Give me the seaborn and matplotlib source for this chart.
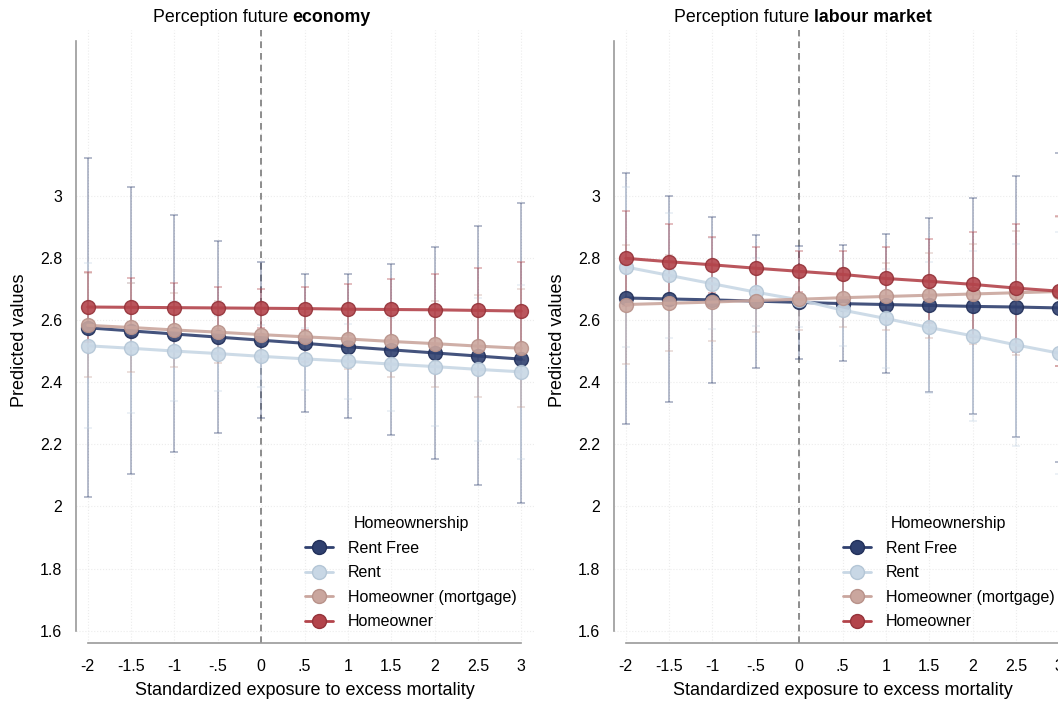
import pandas as pd
import matplotlib
matplotlib.use("Agg")
import matplotlib.pyplot as plt
import seaborn as sns
from matplotlib.lines import Line2D
from matplotlib.offsetbox import TextArea, HPacker, AnnotationBbox


# x values and tick labels
exposure = [-2, -1.5, -1, -0.5, 0, 0.5, 1, 1.5, 2, 2.5, 3]
xtick_labels = ["-2", "-1.5", "-1", "-.5", "0", ".5", "1", "1.5", "2", "2.5", "3"]
yticks = [1.6, 1.8, 2, 2.2, 2.4, 2.6, 2.8, 3]
ytick_labels = ["1.6", "1.8", "2", "2.2", "2.4", "2.6", "2.8", "3"]
groups = ["Rent Free", "Rent", "Homeowner (mortgage)", "Homeowner"]

# Perception future economy
eco_rentfree = [2.576, 2.566, 2.556, 2.546, 2.536, 2.526, 2.515, 2.505, 2.495, 2.485, 2.475]
eco_rentfree_lo = [2.030, 2.105, 2.175, 2.237, 2.286, 2.304, 2.284, 2.231, 2.153, 2.068, 2.012]
eco_rentfree_hi = [3.123, 3.029, 2.938, 2.855, 2.788, 2.748, 2.748, 2.783, 2.837, 2.904, 2.979]

eco_rent = [2.518, 2.510, 2.501, 2.493, 2.484, 2.476, 2.468, 2.459, 2.451, 2.442, 2.434]
eco_rent_lo = [2.252, 2.301, 2.341, 2.371, 2.384, 2.376, 2.348, 2.309, 2.261, 2.212, 2.154]
eco_rent_hi = [2.784, 2.719, 2.661, 2.615, 2.584, 2.576, 2.588, 2.609, 2.641, 2.672, 2.714]

eco_mortgage = [2.584, 2.577, 2.569, 2.562, 2.554, 2.547, 2.540, 2.532, 2.525, 2.517, 2.510]
eco_mortgage_lo = [2.416, 2.434, 2.449, 2.462, 2.469, 2.467, 2.443, 2.416, 2.386, 2.353, 2.320]
eco_mortgage_hi = [2.752, 2.720, 2.689, 2.662, 2.639, 2.627, 2.637, 2.648, 2.664, 2.681, 2.700]

eco_owner = [2.643, 2.642, 2.641, 2.640, 2.639, 2.638, 2.636, 2.635, 2.634, 2.632, 2.630]
eco_owner_lo = [2.529, 2.546, 2.563, 2.573, 2.576, 2.569, 2.554, 2.538, 2.518, 2.494, 2.471]
eco_owner_hi = [2.757, 2.738, 2.719, 2.707, 2.702, 2.707, 2.718, 2.732, 2.750, 2.770, 2.789]

# Perception future labour market
lab_rentfree = [2.672, 2.669, 2.666, 2.662, 2.658, 2.654, 2.651, 2.648, 2.645, 2.643, 2.640]
lab_rentfree_lo = [2.266, 2.336, 2.398, 2.448, 2.475, 2.469, 2.430, 2.368, 2.298, 2.223, 2.145]
lab_rentfree_hi = [3.075, 3.000, 2.932, 2.875, 2.841, 2.842, 2.877, 2.930, 2.994, 3.064, 3.139]

lab_rent = [2.772, 2.745, 2.718, 2.691, 2.666, 2.633, 2.606, 2.577, 2.550, 2.521, 2.494]
lab_rent_lo = [2.514, 2.544, 2.571, 2.581, 2.579, 2.518, 2.445, 2.367, 2.277, 2.196, 2.105]
lab_rent_hi = [3.030, 2.946, 2.865, 2.801, 2.753, 2.748, 2.767, 2.787, 2.823, 2.846, 2.884]

lab_mortgage = [2.651, 2.655, 2.659, 2.664, 2.668, 2.673, 2.677, 2.681, 2.685, 2.689, 2.693]
lab_mortgage_lo = [2.460, 2.500, 2.534, 2.564, 2.568, 2.578, 2.569, 2.544, 2.525, 2.489, 2.453]
lab_mortgage_hi = [2.842, 2.810, 2.784, 2.764, 2.768, 2.768, 2.785, 2.818, 2.845, 2.889, 2.933]

lab_owner = [2.800, 2.789, 2.779, 2.768, 2.758, 2.748, 2.735, 2.726, 2.716, 2.704, 2.694]
lab_owner_lo = [2.646, 2.669, 2.689, 2.698, 2.693, 2.673, 2.632, 2.591, 2.546, 2.497, 2.452]
lab_owner_hi = [2.954, 2.909, 2.869, 2.838, 2.823, 2.823, 2.838, 2.861, 2.886, 2.911, 2.936]

panels = {
    "economy": [(eco_rentfree, eco_rentfree_lo, eco_rentfree_hi),
                (eco_rent, eco_rent_lo, eco_rent_hi),
                (eco_mortgage, eco_mortgage_lo, eco_mortgage_hi),
                (eco_owner, eco_owner_lo, eco_owner_hi)],
    "labour market": [(lab_rentfree, lab_rentfree_lo, lab_rentfree_hi),
                      (lab_rent, lab_rent_lo, lab_rent_hi),
                      (lab_mortgage, lab_mortgage_lo, lab_mortgage_hi),
                      (lab_owner, lab_owner_lo, lab_owner_hi)],
}

rows = []
for panel, series in panels.items():
    for g, (yv, lo, hi) in zip(groups, series):
        for x, y, l, h in zip(exposure, yv, lo, hi):
            rows.append(dict(panel=panel, group=g, x=x, y=y, lo=l, hi=h))
df = pd.DataFrame(rows)

colors = ["#2f406f", "#c8d7e5", "#caa69e", "#b3444b"]
edges = ["#22305a", "#b4c6d6", "#b8928a", "#95333a"]

# Plot
sns.set_style("white", {"text.color": "black", "axes.labelcolor": "black"})
plt.rcParams["font.family"] = ["Liberation Sans", "DejaVu Sans"]

fig = plt.figure(figsize=(10.58, 7.02), dpi=100)
ax1 = fig.add_axes([0.0715, 0.0836, 0.4335, 0.8737])
ax2 = fig.add_axes([0.580, 0.0836, 0.4335, 0.8737])

axis_col = "#9a9a9a"

for ax, panel in zip([ax1, ax2], panels):
    sub = df[df["panel"] == panel]

    # faint dotted grid
    for xv in exposure:
        ax.axvline(xv, color="#ececec", lw=0.8, ls=":", zorder=0)
    for yv in yticks:
        ax.axhline(yv, color="#ececec", lw=0.8, ls=":", zorder=0)
    ax.axvline(0, color="#7a7a7a", lw=1.2, ls=(0, (4, 3)), zorder=1)

    # confidence intervals
    for g, c in zip(groups, colors):
        d = sub[sub["group"] == g]
        ax.errorbar(d["x"], d["y"], yerr=[d["y"] - d["lo"], d["hi"] - d["y"]],
                    fmt="none", ecolor=c, alpha=0.38, elinewidth=1.3,
                    capsize=3, capthick=1.3, zorder=2, label="_nolegend_")

    # predicted values
    for g, c, e in zip(groups, colors, edges):
        d = sub[sub["group"] == g]
        sns.lineplot(data=d, x="x", y="y", ax=ax, color=c, lw=2.2,
                     marker="o", markersize=10, markeredgecolor=e,
                     markeredgewidth=1.0, alpha=0.9, legend=False, zorder=3)

    ax.set_xlim(-2.14, 3.15)
    ax.set_ylim(1.559, 3.536)
    ax.set_xticks(exposure)
    ax.set_xticklabels(xtick_labels)
    ax.set_yticks(yticks)
    ax.set_yticklabels(ytick_labels)

    for s in ["top", "right"]:
        ax.spines[s].set_visible(False)
    ax.spines["left"].set_bounds(1.6, 3.5)
    ax.spines["bottom"].set_bounds(-2, 3)
    for s in ["left", "bottom"]:
        ax.spines[s].set_color(axis_col)
        ax.spines[s].set_linewidth(1.2)

    ax.tick_params(axis="both", which="major", direction="out", color=axis_col,
                   width=1.2, labelsize=11.5, labelcolor="black")
    ax.tick_params(axis="x", length=6, pad=5.5)
    ax.tick_params(axis="y", length=6, pad=3.5)

    ax.set_xlabel("Standardized exposure to excess mortality", fontsize=13, color="black")
    ax.set_ylabel("Predicted values", fontsize=13, color="black")
    ax.xaxis.set_label_coords(0.5, -0.063)
    ax.yaxis.set_label_coords(-0.104, 0.4945)

    handles = [Line2D([], [], color=c, lw=2, marker="o", markersize=10,
                      markeredgecolor=e, markeredgewidth=1.0)
               for c, e in zip(colors, edges)]
    anchor_x = 0.2883 if ax is ax1 else 0.7965
    leg = ax.legend(handles, groups, title="Homeownership", loc="upper left",
                    bbox_to_anchor=(anchor_x, 0.2650), bbox_transform=fig.transFigure,
                    frameon=False, fontsize=11.5, title_fontsize=11.5,
                    handlelength=1.75, handletextpad=0.95, labelspacing=0.6,
                    borderpad=0, borderaxespad=0)
    for t in leg.get_texts():
        t.set_color("black")
    leg.get_title().set_color("black")


# titles with a bold last part
def panel_title(xfrac, normal, bold):
    box = HPacker(children=[TextArea(normal, textprops=dict(fontsize=12.8, color="black")),
                            TextArea(bold, textprops=dict(fontsize=12.8, fontweight="bold",
                                                          color="black"))],
                  align="baseline", pad=0, sep=3)
    ab = AnnotationBbox(box, (xfrac, 1 - 17 / 702), xycoords="figure fraction",
                        frameon=False, box_alignment=(0.5, 0.5))
    fig.add_artist(ab)


panel_title(262 / 1058, "Perception future", "economy")
panel_title(803 / 1058, "Perception future", "labour market")

plt.savefig("out.png", dpi=100)
